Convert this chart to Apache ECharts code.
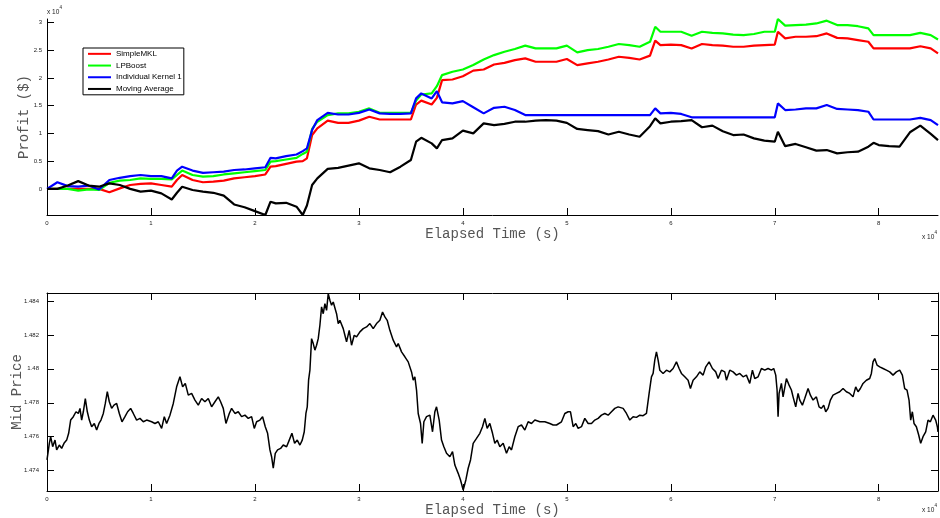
<!DOCTYPE html>
<html>
<head>
<meta charset="utf-8">
<title>Profit and Mid Price</title>
<script src="https://cdn.jsdelivr.net/npm/echarts@6/dist/echarts.min.js"></script>
<style>
  html, body { margin: 0; padding: 0; background: #ffffff; }
  #chart { width: 940px; height: 518px; }
</style>
</head>
<body>
<div id="chart"></div>
<script>
// ---- Profit curves (seconds, dollars) ----
const timeTop = [0,1000,2000,3000,4000,5000,6000,7000,8000,9000,10000,11000,12000,12500,13000,14000,15000,16000,17000,18000,19000,20000,21000,21500,22000,23000,24000,24600,25000,25500,26000,27000,28000,29000,30000,31000,32000,33000,34000,35000,35500,36000,37000,37500,38000,39000,40000,41000,42000,43000,44000,45000,46000,47000,48000,49000,50000,51000,52000,53000,54000,55000,56000,57000,58000,58500,59000,60000,61000,62000,63000,64000,65000,66000,67000,68000,69000,70000,70300,71000,72000,73000,74000,75000,76000,77000,78000,79000,79500,80000,81000,82000,83000,84000,85000,85700];

const simpleMKL = [0,0,0,0,0,0,-600,100,700,900,1000,700,400,1600,2500,1600,1200,1300,1500,1900,2100,2300,2600,4000,4100,4500,4900,5000,5500,9700,10900,12300,11900,11900,12300,13000,12500,12500,12500,12500,15200,15900,15200,16400,19600,19700,20300,21300,21500,22400,22700,23200,23500,22900,22900,22900,23400,22300,22600,22900,23300,23800,23600,23300,24000,26700,25900,26000,25900,25300,26100,25900,25800,25600,25600,25800,25900,26000,28300,27100,27400,27400,27500,28000,27200,27100,26800,26500,25300,25300,25300,25300,25300,25700,25300,24400];

const lpBoost = [0,0,0,-300,-100,-200,1100,1500,1600,1900,1800,1800,1700,2500,3300,2500,2200,2300,2600,2800,3000,3200,3400,4900,5000,5300,5600,6300,6700,10800,12100,13300,13600,13600,13900,14500,13700,13700,13700,13700,15900,17000,17200,18500,20500,21100,21500,22300,23300,24100,24700,25200,25800,25300,25300,25300,25800,24600,25000,25200,25600,26100,25900,25600,26500,29200,28300,28300,28300,27600,28300,28100,28000,27800,27700,27900,28300,28300,30600,29400,29500,29600,29800,30300,29500,29500,29300,28900,27700,27700,27700,27700,27700,28100,27700,26900];

const kernel1 = [0,1200,500,400,600,-100,1600,2000,2300,2500,2300,2300,1900,3300,4000,3300,2900,3000,3100,3400,3500,3700,3900,5600,5500,5900,6200,6800,7300,10600,12400,13700,13400,13400,13700,14300,13600,13500,13500,13600,16300,17200,16300,17600,15600,15400,15800,14700,13600,14600,14800,14200,13300,13300,13300,13300,13300,13300,13300,13300,13300,13300,13300,13300,13300,14500,13600,13700,13500,12900,12900,12900,12900,12900,12900,12900,12900,12900,15400,14200,14300,14500,14500,15100,14400,14300,14200,13900,12500,12500,12500,12500,12500,12800,12400,11500];

const movingAvg = [0,0,600,1400,600,400,1000,700,0,-500,-300,-800,-1900,-700,400,-200,-500,-700,-1200,-2800,-3300,-4000,-4700,-2300,-2600,-2500,-3200,-4700,-3000,700,1900,3600,3800,4200,4600,3700,3400,3000,4000,5200,8500,9200,8200,7300,8800,9100,10500,10000,11800,11500,11700,12100,12100,12300,12400,12300,11900,10800,10600,10400,9800,10300,9800,9400,11300,12700,11800,12100,12200,12400,11100,11400,10400,9700,9800,9100,8700,8500,10300,7700,8100,7500,6900,7000,6400,6600,6700,7600,8300,7900,7700,7600,10200,11400,9900,8800];

// ---- Mid price (seconds, price) ----
const priceTime = [0,224,353,545,769,929,1186,1410,1635,1891,2083,2276,2532,2788,3013,3173,3333,3494,3686,3878,4071,4295,4551,4776,5000,5192,5417,5609,5801,5994,6218,6442,6699,6955,7212,7500,7756,8045,8301,8622,8942,9263,9583,10064,10385,10705,11026,11282,11506,11827,12147,12468,12788,13045,13301,13590,13910,14231,14551,14872,15192,15513,15833,16154,16474,16699,16955,17212,17532,17756,18077,18397,18718,19038,19359,19679,19936,20160,20481,20737,20994,21218,21442,21603,21763,21955,22179,22468,22724,23045,23301,23558,23814,24071,24327,24551,24744,24904,25032,25160,25288,25448,25608,25768,25928,26089,26249,26409,26569,26730,26890,27050,27210,27371,27531,27851,28012,28172,28492,28653,28813,29069,29294,29550,29774,30095,30415,30736,31056,31377,31697,32018,32274,32499,32723,32979,33300,33620,33781,34101,34422,34742,35063,35223,35383,35543,35704,35928,36088,36249,36505,36825,37082,37306,37466,37723,37947,38172,38428,38748,39005,39229,39550,39774,40030,40287,40511,40736,40992,41312,41633,41889,42114,42338,42594,42851,43075,43300,43556,43876,44197,44453,44678,44998,45319,45639,45960,46280,46601,46921,47402,47883,48363,48684,49004,49485,49806,50126,50351,50607,50863,51088,51408,51729,52049,52370,52690,53011,53331,53652,53972,54293,54613,54934,55094,55414,55735,56055,56376,56696,57017,57337,57658,57914,58139,58299,58459,58619,58780,58940,59260,59581,59901,60222,60542,60799,61023,61344,61664,61889,62145,62465,62786,63106,63363,63683,64004,64324,64549,64869,65190,65350,65670,65991,66311,66632,66952,67273,67593,67850,68074,68395,68715,69036,69356,69677,69901,70093,70222,70318,70414,70638,70798,71119,71375,71600,71760,72016,72241,72401,72657,72882,73202,73427,73683,74003,74260,74484,74709,74901,75125,75350,75606,75926,76247,76567,76888,77208,77529,77785,78010,78234,78490,78811,79131,79292,79452,79612,79837,80093,80414,80734,81055,81375,81696,82016,82272,82497,82721,82914,83074,83234,83394,83619,83843,84035,84260,84516,84741,84965,85222,85478,85638,85700];

const midPrice = [1.47463,1.47561,1.47600,1.47541,1.47580,1.47522,1.47551,1.47531,1.47561,1.47580,1.47620,1.47698,1.47718,1.47747,1.47737,1.47767,1.47698,1.47747,1.47825,1.47747,1.47698,1.47659,1.47678,1.47639,1.47678,1.47698,1.47737,1.47796,1.47865,1.47806,1.47767,1.47786,1.47796,1.47737,1.47688,1.47718,1.47747,1.47767,1.47737,1.47698,1.47708,1.47688,1.47698,1.47688,1.47678,1.47688,1.47649,1.47718,1.47678,1.47727,1.47796,1.47894,1.47953,1.47894,1.47914,1.47845,1.47855,1.47816,1.47786,1.47825,1.47806,1.47825,1.47776,1.47806,1.47835,1.47806,1.47767,1.47678,1.47737,1.47767,1.47737,1.47747,1.47718,1.47727,1.47708,1.47718,1.47649,1.47688,1.47698,1.47718,1.47659,1.47620,1.47522,1.47482,1.47414,1.47502,1.47522,1.47531,1.47551,1.47541,1.47580,1.47620,1.47561,1.47580,1.47551,1.47580,1.47629,1.47737,1.47776,1.47933,1.47992,1.48178,1.48149,1.48110,1.48139,1.48178,1.48257,1.48365,1.48325,1.48384,1.48345,1.48443,1.48404,1.48375,1.48394,1.48325,1.48267,1.48286,1.48237,1.48198,1.48159,1.48227,1.48139,1.48198,1.48188,1.48218,1.48237,1.48247,1.48267,1.48237,1.48267,1.48286,1.48335,1.48306,1.48286,1.48227,1.48169,1.48129,1.48149,1.48100,1.48071,1.48041,1.47982,1.47933,1.47953,1.47875,1.47737,1.47678,1.47561,1.47688,1.47718,1.47727,1.47629,1.47747,1.47776,1.47698,1.47580,1.47541,1.47502,1.47482,1.47512,1.47433,1.47384,1.47345,1.47286,1.47345,1.47414,1.47463,1.47561,1.47590,1.47620,1.47659,1.47708,1.47649,1.47678,1.47620,1.47561,1.47580,1.47541,1.47561,1.47502,1.47541,1.47522,1.47600,1.47659,1.47669,1.47639,1.47688,1.47678,1.47698,1.47688,1.47688,1.47678,1.47669,1.47669,1.47688,1.47737,1.47747,1.47747,1.47659,1.47678,1.47649,1.47659,1.47708,1.47678,1.47678,1.47698,1.47708,1.47727,1.47737,1.47727,1.47747,1.47767,1.47776,1.47786,1.47767,1.47737,1.47698,1.47718,1.47714,1.47727,1.47724,1.47737,1.47855,1.47953,1.47973,1.48051,1.48100,1.48051,1.47992,1.47973,1.47992,1.47982,1.48002,1.48041,1.48002,1.47973,1.47953,1.47933,1.47884,1.47933,1.47953,1.47982,1.47963,1.48012,1.48041,1.48002,1.47982,1.47943,1.47992,1.47982,1.47933,1.47992,1.47982,1.47963,1.47973,1.47953,1.47963,1.47914,1.47992,1.47943,1.47953,1.48002,1.47992,1.48002,1.47992,1.48002,1.47963,1.47875,1.47718,1.47855,1.47914,1.47835,1.47943,1.47904,1.47875,1.47835,1.47776,1.47855,1.47816,1.47786,1.47825,1.47884,1.47845,1.47816,1.47835,1.47776,1.47767,1.47786,1.47747,1.47767,1.47816,1.47845,1.47855,1.47865,1.47884,1.47865,1.47855,1.47835,1.47894,1.47865,1.47884,1.47914,1.47933,1.47943,1.47973,1.48041,1.48061,1.48022,1.48012,1.48002,1.47992,1.47982,1.47963,1.47982,1.47992,1.47963,1.47884,1.47875,1.47816,1.47698,1.47747,1.47678,1.47659,1.47610,1.47561,1.47600,1.47629,1.47698,1.47688,1.47727,1.47698,1.47659,1.47629];

// ---- Tick values ----
const timeTicks = [0,10000,20000,30000,40000,50000,60000,70000,80000];
const profitTicks = [0,5000,10000,15000,20000,25000,30000];
const priceTicks = [1.474,1.476,1.478,1.480,1.482,1.484];

const seriesNames = ['SimpleMKL', 'LPBoost', 'Individual Kernel 1', 'Moving Average'];
const seriesColors = ['#ff0000', '#00ff00', '#0000ff', '#000000'];
const seriesValues = [simpleMKL, lpBoost, kernel1, movingAvg];

function pairs(xs, ys) { return xs.map((x, i) => [x, ys[i]]); }

const TICK_FONT = 'Liberation Sans, Arial, sans-serif';
const NAME_FONT = 'Liberation Mono, Courier New, monospace';
const TICK_SIZE = 6;
const X_MAX = 85700;

const nameStyle = { fontFamily: NAME_FONT, fontSize: 14, color: '#555555' };
const lineStyle = { color: '#000000', width: 1 };

function xAxisFor(gridIndex, opts) {
  return Object.assign({
    type: 'value', gridIndex, min: 0, max: X_MAX,
    axisLine: { show: true, onZero: false, lineStyle },
    axisTick: { show: true, inside: true, length: 7, customValues: timeTicks, lineStyle },
    axisLabel: { show: true, customValues: timeTicks, margin: 5, fontSize: TICK_SIZE, fontFamily: TICK_FONT, color: '#222222',
                 formatter: v => String(v / 10000) },
    splitLine: { show: false }
  }, opts || {});
}

const chart = echarts.init(document.getElementById('chart'), null, { renderer: 'canvas' });

const option = {
  animation: false,
  backgroundColor: '#ffffff',
  grid: [
    { left: 47, right: 2, top: 19, height: 196, containLabel: false, outerBoundsMode: 'none' },
    { left: 47, right: 2, top: 293, height: 198, containLabel: false, outerBoundsMode: 'none' }
  ],
  xAxis: [
    xAxisFor(0, { name: 'Elapsed Time (s)', nameLocation: 'middle', nameGap: 11, nameTextStyle: nameStyle }),
    xAxisFor(1, { name: 'Elapsed Time (s)', nameLocation: 'middle', nameGap: 12, nameTextStyle: nameStyle }),
    xAxisFor(1, { position: 'top', axisLabel: { show: false } })
  ],
  yAxis: [
    {
      type: 'value', gridIndex: 0, min: -4700, max: 30600,
      name: 'Profit ($)', nameLocation: 'middle', nameGap: 16, nameMoveOverlap: false, nameTextStyle: nameStyle,
      axisLine: { show: true, onZero: false, lineStyle },
      axisTick: { show: true, inside: true, length: 7, customValues: profitTicks, lineStyle },
      axisLabel: { customValues: profitTicks, margin: 5, fontSize: TICK_SIZE, fontFamily: TICK_FONT, color: '#222222',
                   formatter: v => String(v / 10000) },
      splitLine: { show: false }
    },
    {
      type: 'value', gridIndex: 1, min: 1.4728, max: 1.48447,
      name: 'Mid Price', nameLocation: 'middle', nameGap: 23, nameMoveOverlap: false, nameTextStyle: nameStyle,
      axisLine: { show: true, onZero: false, lineStyle },
      axisTick: { show: true, inside: true, length: 7, customValues: priceTicks, lineStyle },
      axisLabel: { customValues: priceTicks, margin: 8, fontSize: TICK_SIZE, fontFamily: TICK_FONT, color: '#222222',
                   formatter: v => String(parseFloat(v.toFixed(3))) },
      splitLine: { show: false }
    },
    {
      type: 'value', gridIndex: 1, min: 1.4728, max: 1.48447, position: 'right',
      axisLine: { show: true, onZero: false, lineStyle },
      axisTick: { show: true, inside: true, length: 7, customValues: priceTicks, lineStyle },
      axisLabel: { show: false },
      splitLine: { show: false }
    }
  ],
  legend: {
    left: 83, top: 48, orient: 'vertical',
    data: seriesNames, icon: 'rect', itemWidth: 23, itemHeight: 2, itemGap: 0,
    padding: [0, 2, 0, 5], borderColor: '#000000', borderWidth: 1, backgroundColor: '#ffffff',
    selectedMode: false,
    textStyle: { fontSize: 8, fontFamily: TICK_FONT, color: '#000000', lineHeight: 11.7 }
  },
  graphic: [
    { type: 'text', x: 47, y: 9, style: { text: 'x 10', fontSize: 6.5, fontFamily: TICK_FONT, fill: '#222222' } },
    { type: 'text', x: 59.5, y: 5.5, style: { text: '4', fontSize: 4.5, fontFamily: TICK_FONT, fill: '#222222' } },
    { type: 'text', x: 922, y: 234, style: { text: 'x 10', fontSize: 6.5, fontFamily: TICK_FONT, fill: '#222222' } },
    { type: 'text', x: 934.5, y: 230.5, style: { text: '4', fontSize: 4.5, fontFamily: TICK_FONT, fill: '#222222' } },
    { type: 'text', x: 922, y: 507, style: { text: 'x 10', fontSize: 6.5, fontFamily: TICK_FONT, fill: '#222222' } },
    { type: 'text', x: 934.5, y: 503.5, style: { text: '4', fontSize: 4.5, fontFamily: TICK_FONT, fill: '#222222' } }
  ],
  series: seriesNames.map((name, i) => ({
    name, type: 'line', xAxisIndex: 0, yAxisIndex: 0,
    data: pairs(timeTop, seriesValues[i]),
    showSymbol: false, symbol: 'none',
    color: seriesColors[i],
    lineStyle: { color: seriesColors[i], width: 2.2 },
    z: 2 + i
  })).concat([{
    name: 'Mid Price', type: 'line', xAxisIndex: 1, yAxisIndex: 1,
    data: pairs(priceTime, midPrice),
    showSymbol: false, symbol: 'none',
    lineStyle: { color: '#000000', width: 1.5 }
  }])
};

chart.setOption(option);
</script>
</body>
</html>
